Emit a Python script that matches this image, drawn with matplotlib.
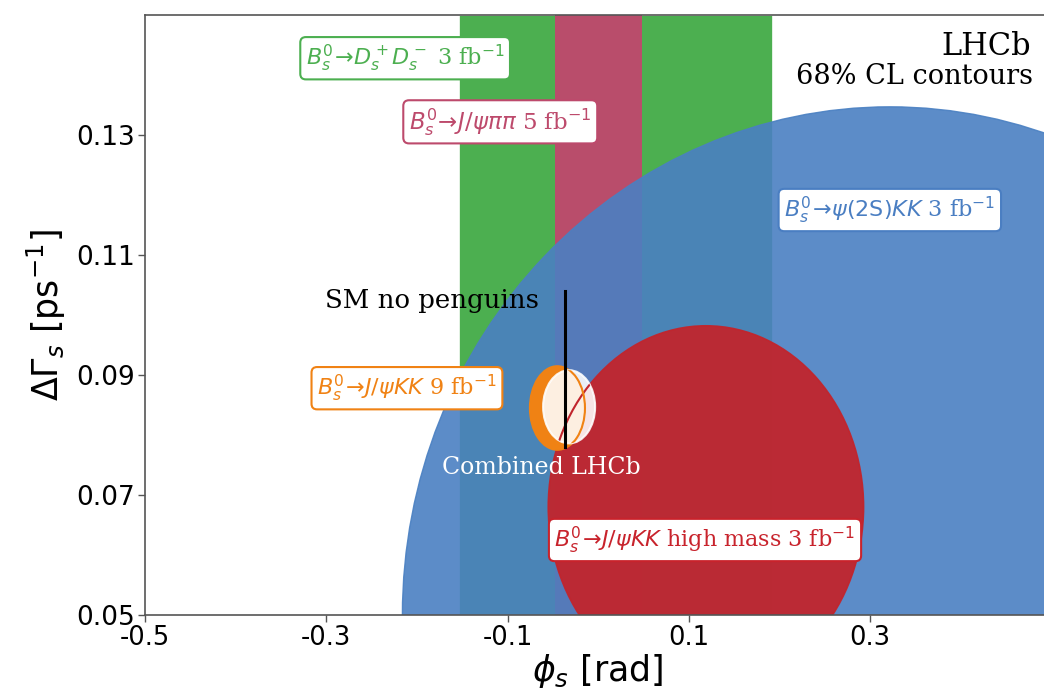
import matplotlib
matplotlib.use("Agg")
import matplotlib.pyplot as plt
from matplotlib.patches import Ellipse

plt.rcParams['font.family'] = 'DejaVu Serif'
plt.rcParams['mathtext.fontset'] = 'dejavusans'

# 68% CL regions (phi_s in rad, dGamma_s in ps^-1)
# vertical bands: phi_s from / to
dsds_band = [-0.153, 0.193]
jpsipipi_band = [-0.048, 0.048]
# ellipses: centre phi, centre dgamma, half width phi, half width dgamma
psi2s_ell = [0.322, 0.050, 0.538, 0.0847]
highmass_ell = [0.119, 0.068, 0.174, 0.0302]
jpsikk_ell = [-0.045, 0.0845, 0.0305, 0.0070]
combined_ell = [-0.032, 0.0847, 0.0287, 0.0061]
# SM prediction, no penguins
sm_phi = -0.0368
sm_dg = 0.091
sm_dg_err = 0.013

xticks = [-0.5, -0.3, -0.1, 0.1, 0.3]
xticklabels = ['-0.5', '-0.3', '-0.1', '0.1', '0.3']
yticks = [0.05, 0.07, 0.09, 0.11, 0.13]
yticklabels = ['0.05', '0.07', '0.09', '0.11', '0.13']

green = '#4caf50'
pink = '#bd4a6c'
blue = '#4a80c2'
red = '#c1252d'
orange = '#f08214'

fig = plt.figure(figsize=(10.44, 6.96), dpi=100)
ax = fig.add_axes([0.139, 0.1164, 0.8678, 0.862])

ax.axvspan(dsds_band[0], dsds_band[1], color=green, ec='white', lw=1.2, zorder=1)
ax.axvspan(jpsipipi_band[0], jpsipipi_band[1], color=pink, alpha=0.97, lw=0, zorder=2)

def ell(p, **kw):
    e = Ellipse((p[0], p[1]), 2 * p[2], 2 * p[3], **kw)
    ax.add_patch(e)
    return e

ell(psi2s_ell, fc=blue, ec=blue, alpha=0.9, lw=1, zorder=3)
ell(highmass_ell, fc=red, ec=red, alpha=0.95, lw=1.2, zorder=4)
ell(jpsikk_ell, fc=orange, ec=orange, lw=1.2, zorder=5)
comb = ell(combined_ell, fc='white', ec='white', alpha=0.88, lw=1.5, zorder=6)

# outlines seen through the combined region
ell(highmass_ell, fc='none', ec=red, lw=1.5, zorder=6.5, clip_path=comb)
ell(jpsikk_ell, fc='none', ec=orange, lw=1.5, zorder=6.5, clip_path=comb)

ax.plot([sm_phi, sm_phi], [sm_dg - sm_dg_err, sm_dg + sm_dg_err], color='black', lw=2.2, zorder=7)

def label(x, y, s, c, size=16):
    ax.text(x, y, s, color=c, fontsize=size, ha='center', va='center', zorder=10,
            bbox=dict(boxstyle='round,pad=0.25', fc='white', ec=c, lw=1.5))

label(-0.213, 0.1428, r'$B_s^0\!\to\!D_s^+D_s^-$ 3 fb$^{-1}$', green)
label(-0.108, 0.1322, r'$B_s^0\!\to\!J/\psi\pi\pi$ 5 fb$^{-1}$', pink, 16.5)
label(0.322, 0.1175, r'$B_s^0\!\to\!\psi\mathrm{(2S)}KK$ 3 fb$^{-1}$', '#4a7ec2')
label(-0.211, 0.0878, r'$B_s^0\!\to\!J/\psi KK$ 9 fb$^{-1}$', orange)
label(0.118, 0.0625, r'$B_s^0\!\to\!J/\psi KK$ high mass 3 fb$^{-1}$', '#c8232c')

ax.text(-0.063, 0.0745, 'Combined LHCb', color='white', fontsize=17, ha='center', va='center', zorder=10)
ax.text(-0.183, 0.1025, 'SM no penguins', color='black', fontsize=18.7, ha='center', va='center', zorder=10)
ax.text(0.478, 0.1448, 'LHCb', color='black', fontsize=22, ha='right', va='center', zorder=10)
ax.text(0.480, 0.1397, '68% CL contours', color='black', fontsize=19.5, ha='right', va='center', zorder=10)

ax.set_xlim(-0.5, 0.5)
ax.set_ylim(0.05, 0.15)
ax.set_xticks(xticks)
ax.set_xticklabels(xticklabels, fontfamily='DejaVu Sans', fontsize=18.5)
ax.set_yticks(yticks)
ax.set_yticklabels(yticklabels, fontfamily='DejaVu Sans', fontsize=19)
ax.tick_params(direction='out', length=5, width=1, color='#555555', pad=2)
ax.set_xlabel(r'$\phi_s$ [rad]', fontfamily='DejaVu Sans', fontsize=25, labelpad=1)
ax.set_ylabel(r'$\Delta\Gamma_s$ [ps$^{-1}$]', fontfamily='DejaVu Sans', fontsize=25, labelpad=6)
for sp in ax.spines.values():
    sp.set_color('#555555')
    sp.set_linewidth(1.2)
    sp.set_zorder(12)

fig.savefig('out.png', dpi=100)
